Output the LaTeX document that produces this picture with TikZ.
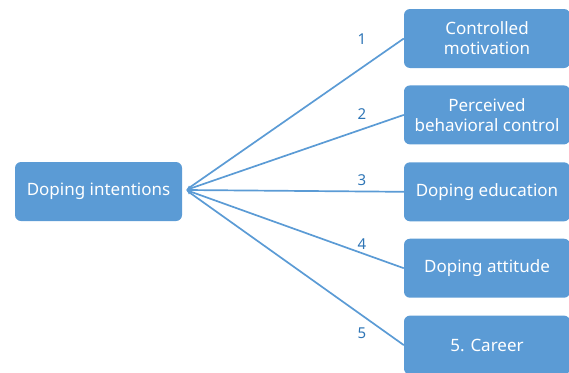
\documentclass[tikz,border=0pt]{standalone}
\usepackage{fontspec}
\setmainfont{Noto Sans}
\usepackage{tikz}
\usetikzlibrary{positioning}
\usetikzlibrary{arrows.meta}
\definecolor{boxblue}{HTML}{5B9BD5}
\definecolor{numblue}{HTML}{2E75B6}
\tikzset{
  factor/.style={draw=none, fill=boxblue, rounded corners=6pt, text=white,
    minimum height=59pt, align=center, font=\fontsize{17}{20}\selectfont, inner sep=2pt},
  link/.style={draw=boxblue, line width=1.7pt},
  num/.style={text=numblue, font=\fontsize{15}{17}\selectfont}
}

\begin{document}
\begin{tikzpicture}[x=1pt, y=-1pt]
  \useasboundingbox (0,0) rectangle (569,372);
  \node[factor, minimum width=167pt] (di) at (98.5,191.5) {Doping intentions};
  \coordinate (hub) at (186,190);

  \node[factor, minimum width=166pt] (cm) at (487,38.5) {Controlled\\motivation};
  \node[factor, minimum width=166pt, below=17pt of cm] (pbc) {Perceived\\behavioral control};
  \node[factor, minimum width=166pt, below=17.5pt of pbc] (de) {Doping education};
  \node[factor, minimum width=166pt, below=17pt of de] (da) {Doping attitude};
  \node[factor, minimum width=166pt, below=17.5pt of da] (ca) {5. Career};

  \node[num] (n1) at (362,39) {1};
  \node[num] (n2) at (362,114) {2};
  \node[num] (n3) at (362,180) {3};
  \node[num] (n4) at (362,244) {4};
  \node[num] (n5) at (362,333) {5};

  \draw[link, -{Latex[length=5pt,width=4pt]}] (cm.west) -- (hub);
  \draw[link, -{Latex[length=5pt,width=4pt]}] (pbc.west) -- (hub);
  \draw[link, -{Latex[length=5pt,width=4pt]}] (de.west) -- (hub);
  \draw[link, -{Latex[length=5pt,width=4pt]}] (da.west) -- (hub);
  \draw[link, -{Latex[length=5pt,width=4pt]}] (ca.west) -- (hub);
\end{tikzpicture}
\end{document}
